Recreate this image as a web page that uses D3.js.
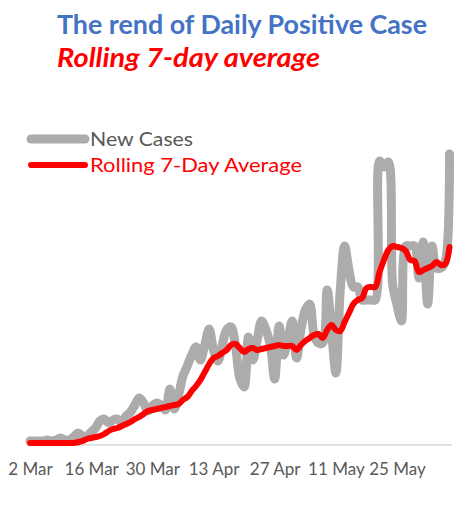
<!DOCTYPE html>
<html>
<head>
<meta charset="utf-8">
<script src="https://cdn.jsdelivr.net/npm/d3@7"></script>
<style>
  html, body { margin: 0; padding: 0; background: #ffffff; }
  svg { display: block; }
</style>
</head>
<body>
<svg id="chart" width="462" height="519"></svg>
<script>
// ---- data ----
const startDate = "2020-03-02";
const endDate = "2020-06-06";
const newCases = [
  6, 6, 6, 6, 8, 6, 8, 12, 8, 8,
  14, 22, 16, 16, 24, 32, 46, 50, 42, 48,
  50, 42, 56, 64, 78, 92, 82, 66, 76, 82,
  78, 68, 110, 70, 98, 136, 156, 178, 194, 168,
  198, 230, 188, 166, 198, 228, 234, 198, 132, 114,
  214, 168, 208, 246, 228, 198, 130, 236, 178, 208,
  246, 172, 228, 268, 280, 218, 202, 202, 308, 228,
  142, 308, 396, 348, 314, 314, 288, 288, 288, 288,
  566, 554, 564, 318, 278, 246, 396, 396, 396, 332,
  404, 280, 396, 352, 352, 364, 580
];
const rolling7 = [
  2, 2, 2, 2, 2, 2, 2, 2, 2, 2,
  2, 4, 6, 10, 12, 14, 16, 20, 26, 30,
  32, 36, 40, 44, 50, 54, 60, 66, 68, 70,
  72, 74, 76, 78, 80, 88, 94, 106, 116, 128,
  144, 160, 172, 176, 182, 188, 198, 200, 192, 184,
  190, 192, 188, 190, 192, 194, 196, 198, 196, 196,
  196, 188, 198, 206, 212, 218, 220, 212, 228, 238,
  228, 226, 244, 262, 280, 288, 292, 312, 314, 314,
  344, 368, 388, 396, 394, 392, 386, 368, 366, 344,
  348, 352, 356, 364, 358, 360, 394
];
const tickDates = ["2020-03-02", "2020-03-16", "2020-03-30", "2020-04-13", "2020-04-27", "2020-05-11", "2020-05-25"];
const tickLabels = ["2 Mar", "16 Mar", "30 Mar", "13 Apr", "27 Apr", "11 May", "25 May"];
const seriesNames = ["New Cases", "Rolling 7-Day Average"];
const titleText = "The rend of Daily Positive Case";
const subtitleText = "Rolling 7-day average";

// ---- drawing ----
const parse = d3.utcParse("%Y-%m-%d");
const t0 = parse(startDate);
const dates = newCases.map((_, i) => d3.utcDay.offset(t0, i));

const svg = d3.select("#chart");
const font = "Lato, 'Open Sans', 'Liberation Sans', sans-serif";
const grayCol = "#aeabab";
const redCol = "#ff0000";

const x = d3.scaleUtc().domain([t0, parse(endDate)]).range([30, 449.5]);
const y = d3.scaleLinear().domain([0, 600]).range([444, 144]);

// axis
const axis = d3.axisBottom(x)
  .tickValues(tickDates.map(parse))
  .tickFormat((d, i) => tickLabels[i])
  .tickSize(0)
  .tickSizeOuter(0);
const gAxis = svg.append("g").attr("transform", `translate(0,${y(0)})`).call(axis);
gAxis.select(".domain").remove();
gAxis.insert("line", ":first-child")
  .attr("x1", 28).attr("x2", 452).attr("y1", 1).attr("y2", 1)
  .attr("stroke", "#d9d9d9").attr("stroke-width", 1.5);
gAxis.selectAll(".tick text")
  .attr("y", 31).attr("dy", 0)
  .attr("fill", "#595959")
  .style("font-family", font)
  .style("font-size", "17px");

const curve = d3.curveCatmullRom.alpha(0.5);
const lineGen = arr => d3.line()
  .x((d, i) => x(dates[i]))
  .y(d => y(d))
  .curve(curve)(arr);

svg.append("path")
  .attr("d", lineGen(newCases))
  .attr("fill", "none")
  .attr("stroke", grayCol)
  .attr("stroke-width", 9)
  .attr("stroke-linejoin", "round")
  .attr("stroke-linecap", "round");

svg.append("path")
  .attr("d", lineGen(rolling7))
  .attr("fill", "none")
  .attr("stroke", redCol)
  .attr("stroke-width", 6)
  .attr("stroke-linejoin", "round")
  .attr("stroke-linecap", "round");

// titles
svg.append("text")
  .attr("x", 57).attr("y", 34)
  .attr("textLength", 370).attr("lengthAdjust", "spacingAndGlyphs")
  .attr("fill", "#4472c4")
  .style("font-family", font).style("font-weight", "bold").style("font-size", "26px")
  .text(titleText);
svg.append("text")
  .attr("x", 57).attr("y", 67)
  .attr("textLength", 263).attr("lengthAdjust", "spacingAndGlyphs")
  .attr("fill", redCol)
  .style("font-family", font).style("font-weight", "bold").style("font-style", "italic").style("font-size", "26px")
  .text(subtitleText);

// legend
const legend = [
  { name: seriesNames[0], color: grayCol, w: 9, ly: 139, ty: 146, tc: "#595959", tl: 103 },
  { name: seriesNames[1], color: redCol, w: 6, ly: 165, ty: 172, tc: redCol, tl: 212 }
];
legend.forEach(l => {
  svg.append("line")
    .attr("x1", 31).attr("x2", 85).attr("y1", l.ly).attr("y2", l.ly)
    .attr("stroke", l.color).attr("stroke-width", l.w).attr("stroke-linecap", "round");
  svg.append("text")
    .attr("x", 90).attr("y", l.ty)
    .attr("textLength", l.tl).attr("lengthAdjust", "spacingAndGlyphs")
    .attr("fill", l.tc)
    .style("font-family", font).style("font-size", "20px")
    .text(l.name);
});
</script>
</body>
</html>
